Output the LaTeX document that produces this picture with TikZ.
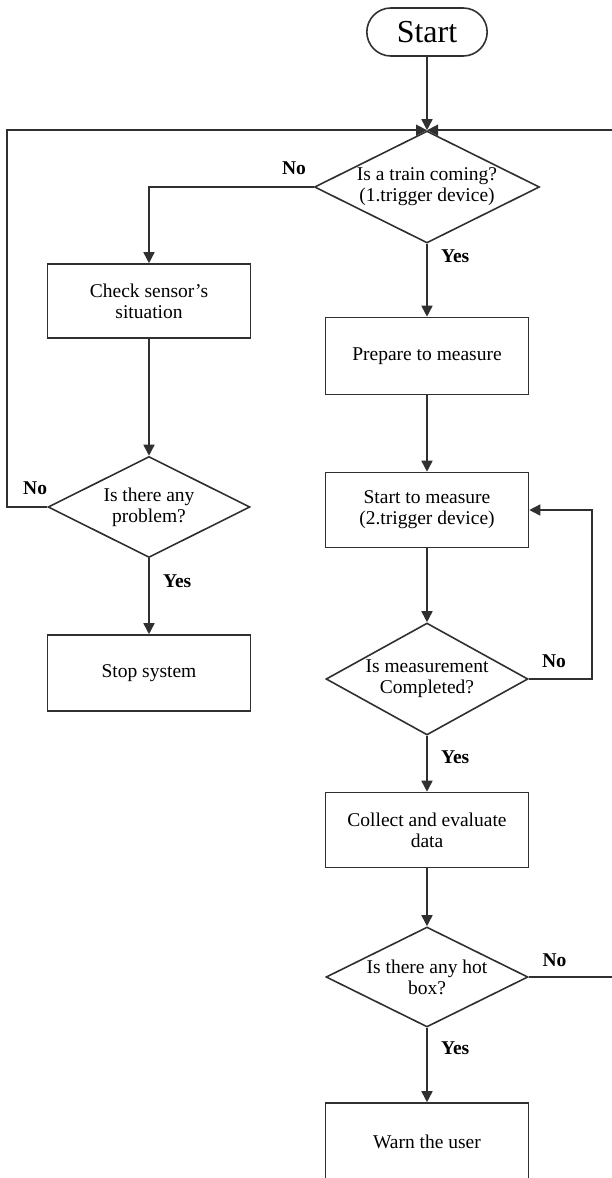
\documentclass[tikz,border=0pt]{standalone}
\usepackage{fontspec}
\setmainfont{Liberation Serif}
\usetikzlibrary{arrows.meta,shapes.geometric,shapes.misc}
\usepackage{xcolor}
\definecolor{linegray}{HTML}{303030}

\begin{document}
\begin{tikzpicture}[x=1pt, y=-1pt,
    process/.style={draw=linegray, line width=1.6pt, minimum width=203pt, minimum height=76pt, align=center, font=\fontsize{19.5}{21}\selectfont},
    decision/.style={diamond, draw=linegray, line width=1.6pt, inner sep=0pt, minimum width=202pt, minimum height=101pt},
    qtext/.style={align=center, inner sep=0pt, font=\fontsize{19.5}{21}\selectfont},
    terminal/.style={rounded rectangle, draw=linegray, line width=1.6pt, minimum width=127pt, minimum height=48pt, font=\fontsize{32}{34}\selectfont},
    flow/.style={-{Triangle[length=11pt,width=11pt]}, line width=1.6pt, draw=linegray},
    answer/.style={font=\bfseries\fontsize{19.5}{21}\selectfont},
]
\useasboundingbox (0,0) rectangle (612,1178);
\clip (0,0) rectangle (612,1178);

\node[terminal] (start) at (427,32) {Start};

\node[decision, minimum width=225pt, minimum height=112pt] (train) at (427,187) {};
\node[qtext] (traintxt) at (train) {Is a train coming?\\(1.trigger device)};

\node[process, minimum height=74pt] (check) at (149,301) {Check sensor’s\\situation};
\node[decision] (problem) at (149,507) {};
\node[qtext] (problemtxt) at (problem) {Is there any\\problem?};
\node[process] (stop) at (149,673) {Stop system};

\node[process, minimum height=77pt] (prepare) at (427,356) {Prepare to measure};
\node[process, minimum height=75pt] (measure) at (427,510) {Start to measure\\(2.trigger device)};
\node[decision, minimum height=112pt] (done) at (427,679) {};
\node[qtext] (donetxt) at (done) {Is measurement\\Completed?};
\node[process, minimum height=75pt] (collect) at (427,830) {Collect and evaluate\\data};
\node[decision, minimum height=100pt] (hotbox) at (427,977) {};
\node[qtext] (hotboxtxt) at (hotbox) {Is there any hot\\box?};
\node[process, minimum height=78pt] (warn) at (427,1142) {Warn the user};

\coordinate (leftloop) at (7,0);
\coordinate (rightloop) at (624,0);
\coordinate (measloop) at (592,0);

\draw[flow] (start) -- (train.north);
\draw[flow] (train.west) -| node[answer, pos=0.06, above=8pt] {No} (check.north);
\draw[flow] (check) -- (problem.north);
\draw[flow] (problem.west) -- node[answer, pos=0.3, above=8pt] {No} (problem.west -| leftloop) |- (train.north);
\draw[flow] (problem.south) -- node[answer, pos=0.3, right=10pt] {Yes} (stop);

\draw[flow] (train.south) -- node[answer, pos=0.17, right=10pt] {Yes} (prepare);
\draw[flow] (prepare) -- (measure);
\draw[flow] (measure) -- (done.north);
\draw[flow] (done.east) -- node[answer, pos=0.4, above=7pt] {No} (done.east -| measloop) |- (measure.east);
\draw[flow] (done.south) -- node[answer, pos=0.38, right=10pt] {Yes} (collect);
\draw[flow] (collect) -- (hotbox.north);
\draw[flow] (hotbox.east) -- node[answer, pos=0.27, above=6pt] {No} (hotbox.east -| rightloop) |- (train.north);
\draw[flow] (hotbox.south) -- node[answer, pos=0.28, right=10pt] {Yes} (warn);

\end{tikzpicture}
\end{document}
